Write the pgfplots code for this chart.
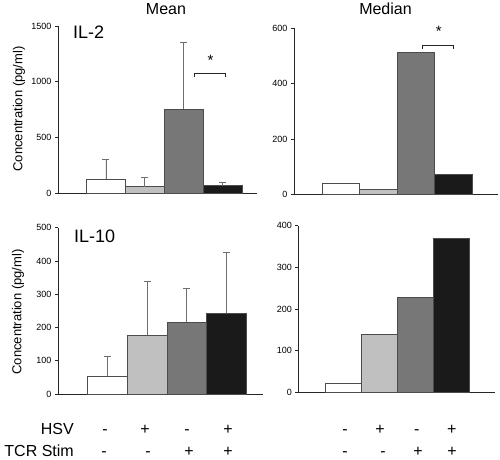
\documentclass[border=0pt]{standalone}
\usepackage{fontspec}
\setmainfont{Liberation Sans}
\usepackage{pgfplots}
\pgfplotsset{compat=1.18}
\definecolor{lg}{HTML}{C0C0C0}
\definecolor{dg}{HTML}{777777}
\definecolor{bk}{HTML}{1A1A1A}
\definecolor{eg}{HTML}{6E6E6E}
\begin{document}
\begin{tikzpicture}
\useasboundingbox (0pt,0pt) rectangle (500pt,459pt);
\pgfplotsset{
 panel/.style={scale only axis, axis lines*=left, ymin=0, xtick=\empty,
   tick align=outside, major tick length=3pt,
   axis line style={line width=0.7pt, color=black!85},
   tick style={line width=0.6pt, black!85},
   ticklabel style={font=\fontsize{9}{10}\selectfont},
   /pgf/number format/assume math mode=true,
   /pgf/number format/1000 sep={},
   ybar, bar width=1, /pgf/bar shift=0pt, clip=false, anchor=south west},
 b/.style={draw=black!70, line width=0.5pt,
   error bars/y dir=plus, error bars/y explicit,
   error bars/error mark=-,
   error bars/error bar style={eg, line width=0.6pt},
   error bars/error mark options={rotate=90, eg, mark size=3.5pt, line width=0.6pt}},
}
% Top-left: IL-2 mean
\begin{axis}[panel, at={(58pt,266pt)}, width=199pt, height=167pt,
  xmin=-0.23, xmax=4.885, ymax=1500, ytick={0,500,1000,1500}]
\addplot[fill=white, b] coordinates {(1,126) +- (0,177)};
\addplot[fill=lg, b] coordinates {(2,57) +- (0,80)};
\addplot[fill=dg, b] coordinates {(3,755) +- (0,602)};
\addplot[fill=bk, b] coordinates {(4,66) +- (0,33)};
\draw[line width=0.8pt, black!85] (axis cs:3.27,1040) -- (axis cs:3.27,1075) -- (axis cs:4.08,1075) -- (axis cs:4.08,1040);
\node[font=\fontsize{15}{15}\selectfont] at (axis cs:3.69,1195) {*};
\end{axis}
% Top-right: IL-2 median
\begin{axis}[panel, at={(294pt,264.7pt)}, width=204pt, height=166pt,
  xmin=-0.253, xmax=5.19, ymax=600, ytick={0,200,400,600}]
\addplot[fill=white, draw=black!70, line width=0.5pt] coordinates {(1,41)};
\addplot[fill=lg, draw=black!70, line width=0.5pt] coordinates {(2,18)};
\addplot[fill=dg, draw=black!70, line width=0.5pt] coordinates {(3,513)};
\addplot[fill=bk, draw=black!70, line width=0.5pt] coordinates {(4,74)};
\draw[line width=0.8pt, black!85] (axis cs:3.16,526) -- (axis cs:3.16,540) -- (axis cs:3.99,540) -- (axis cs:3.99,526);
\node[font=\fontsize{15}{15}\selectfont] at (axis cs:3.61,590) {*};
\end{axis}
% Bottom-left: IL-10 mean
\begin{axis}[panel, at={(58pt,65pt)}, width=205pt, height=166.3pt,
  xmin=-0.242, xmax=4.92, ymax=500, ytick={0,100,200,300,400,500}]
\addplot[fill=white, b] coordinates {(1,53) +- (0,61)};
\addplot[fill=lg, b] coordinates {(2,178) +- (0,161)};
\addplot[fill=dg, b] coordinates {(3,217) +- (0,101)};
\addplot[fill=bk, b] coordinates {(4,243) +- (0,184)};
\end{axis}
% Bottom-right: IL-10 median
\begin{axis}[panel, at={(298.3pt,66.7pt)}, width=196.7pt, height=166.6pt,
  xmin=-0.253, xmax=5.22, ymax=400, ytick={0,100,200,300,400}]
\addplot[fill=white, draw=black!70, line width=0.5pt] coordinates {(1,22)};
\addplot[fill=lg, draw=black!70, line width=0.5pt] coordinates {(2,140)};
\addplot[fill=dg, draw=black!70, line width=0.5pt] coordinates {(3,228)};
\addplot[fill=bk, draw=black!70, line width=0.5pt] coordinates {(4,369)};
\end{axis}
% Titles and labels
\node[font=\fontsize{16}{16}\selectfont, anchor=base] at (166pt,444.5pt) {Mean};
\node[font=\fontsize{16}{16}\selectfont, anchor=base] at (385.5pt,444.5pt) {Median};
\node[font=\fontsize{18}{18}\selectfont, anchor=base west, inner sep=0pt] at (73pt,420pt) {IL-2};
\node[font=\fontsize{18}{18}\selectfont, anchor=base west, inner sep=0pt] at (74pt,217pt) {IL-10};
\node[font=\fontsize{13}{13}\selectfont, rotate=90] at (19pt,350pt) {Concentration (pg/ml)};
\node[font=\fontsize{13}{13}\selectfont, rotate=90] at (18pt,147pt) {Concentration (pg/ml)};
\node[font=\fontsize{16}{16}\selectfont, anchor=base east, inner sep=0pt] at (74pt,24.5pt) {HSV};
\node[font=\fontsize{16}{16}\selectfont, anchor=base east, inner sep=0pt] at (74pt,3pt) {TCR Stim};
\foreach \x/\s in {105/-,145/+,187/-,228/+,345/-,380/+,416.7/-,451.7/+}
  \node[font=\fontsize{16}{16}\selectfont, anchor=base, inner sep=0pt] at (\x pt,24.5pt) {\s};
\foreach \x/\s in {104/-,148/-,189/+,228/+,345/-,383/-,418/+,452/+}
  \node[font=\fontsize{16}{16}\selectfont, anchor=base, inner sep=0pt] at (\x pt,3pt) {\s};
\end{tikzpicture}
\end{document}
